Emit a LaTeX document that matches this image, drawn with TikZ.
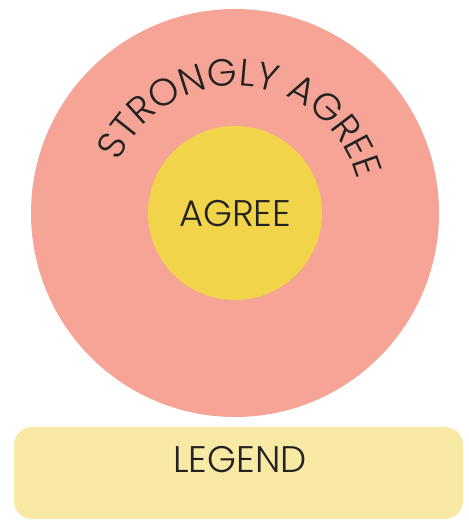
\documentclass[tikz,border=0pt]{standalone}
\usepackage{fontspec}
\setmainfont{Poppins}[UprightFont=* Light]
\usetikzlibrary{decorations.text}
\definecolor{salmon}{HTML}{F6A495}
\definecolor{sun}{HTML}{F2D44A}
\definecolor{legendfill}{HTML}{F8EAA5}
\definecolor{ink}{HTML}{222222}
\begin{document}
\begin{tikzpicture}[x=1pt,y=1pt,
  lbl/.style={text=ink,font=\fontsize{37}{42}\selectfont,inner sep=0pt}]
\useasboundingbox (0,0) rectangle (468,521);
\node[circle,fill=salmon,minimum size=408pt,inner sep=0pt] (outer) at (235,308) {};
\node[circle,fill=sun,minimum size=174pt,inner sep=0pt] (inner) at (235,308) {};
\node[lbl] (agree) at (235,307) {AGREE};
\node[rounded corners=18pt,fill=legendfill,minimum width=449pt,minimum height=92pt,inner sep=0pt] (legend) at (238.5,48) {};
\node[lbl] (legendtext) at ([xshift=1.5pt,yshift=13pt]legend.center) {LEGEND};
\path[decorate,decoration={text along path,text align=center,
  text={|\color{ink}\fontsize{38}{44}\selectfont|STRONGLY AGREE}}]
  (outer.center) ++(165.5:127) arc[start angle=165.5,end angle=5.5,radius=127];
\end{tikzpicture}
\end{document}
